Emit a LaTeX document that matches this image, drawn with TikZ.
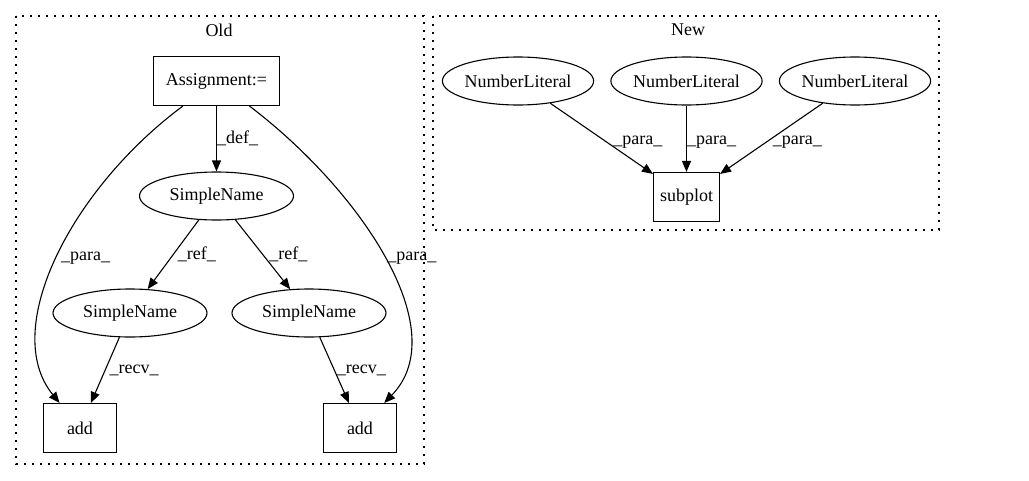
\documentclass[tikz,border=0pt]{standalone}
\usepackage{fontspec}
\setmainfont{Liberation Serif}
\usetikzlibrary{shapes.geometric,arrows.meta,positioning}

\begin{document}
\begin{tikzpicture}[x=1pt, y=-1pt, node distance=2cm, auto,
    font=\fontsize{18}{20}\selectfont,
    >={Triangle[length=11pt,width=9pt]},
    every path/.style={line width=1.1pt},
    box/.style={draw, rectangle, minimum height=49pt, inner sep=0pt},
    oval/.style={draw, ellipse, minimum height=48pt, inner sep=0pt},
    lbl/.style={anchor=west, inner sep=0pt},
    cluster/.style={draw, dash pattern=on 1.6pt off 6.4pt}]
    \useasboundingbox (0,0) rectangle (1029,480);
    % clusters
    \draw [cluster] (16,16) rectangle (424,464);
    \draw [cluster] (433,16) rectangle (939,230);
    \node (oldtitle) at (219,30) {Old};
    \node (newtitle) at (688,30) {New};
    % old
    \node [box, minimum width=126pt] (assign) at (216.5,81) {Assignment:=};
    \node [oval, minimum width=154pt, below of=assign, node distance=115pt] (name) {SimpleName};
    \node [oval, minimum width=154pt] (nameleft) at (130,313) {SimpleName};
    \node [oval, minimum width=154pt] (nameright) at (309,313) {SimpleName};
    \node [box, minimum width=73pt] (addleft) at (80,428) {add};
    \node [box, minimum width=73pt] (addright) at (360,428) {add};
    \draw [->] (assign) -- node [lbl, pos=0.5] {\_def\_} (name);
    \draw [->] (name) -- node [lbl, pos=0.5, xshift=4pt] {\_ref\_} (nameleft);
    \draw [->] (name) -- node [lbl, pos=0.5, xshift=6pt] {\_ref\_} (nameright);
    \draw [->] (nameleft) -- node [lbl, pos=0.5, xshift=4pt] {\_recv\_} (addleft);
    \draw [->] (nameright) -- node [lbl, pos=0.5, xshift=2pt] {\_recv\_} (addright);
    \draw [->] (assign) .. controls (70,190) and (0,330) .. node [lbl, pos=0.5, xshift=4pt] {\_para\_} (addleft);
    \draw [->] (assign) .. controls (360,190) and (455,330) .. node [lbl, pos=0.5, xshift=2pt] {\_para\_} (addright);
    % new
    \node [oval, minimum width=149pt] (numa) at (518,81) {NumberLiteral};
    \node [oval, minimum width=149pt] (numb) at (686.5,81) {NumberLiteral};
    \node [oval, minimum width=150pt] (numc) at (855,81) {NumberLiteral};
    \node [box, minimum width=66pt, below of=numb, node distance=116pt] (subplot) {subplot};
    \draw [->] (numa) -- node [lbl, pos=0.55, xshift=6pt] {\_para\_} (subplot);
    \draw [->] (numb) -- node [lbl, pos=0.55] {\_para\_} (subplot);
    \draw [->] (numc) -- node [lbl, pos=0.55, xshift=6pt] {\_para\_} (subplot);
\end{tikzpicture}
\end{document}
